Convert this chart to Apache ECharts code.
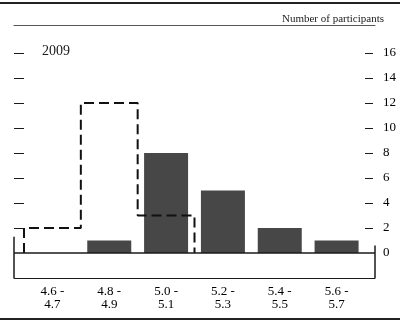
<!DOCTYPE html>
<html>
<head>
<meta charset="utf-8">
<script src="https://cdn.jsdelivr.net/npm/echarts@6/dist/echarts.min.js"></script>
<style>
  html, body { margin: 0; padding: 0; background: #fff; }
  #box { width: 400px; height: 321px; }
</style>
</head>
<body>
<div id="box"></div>
<script>
// ranges of the projection (percent), two-line tick labels
const categories = ['4.6 -\n4.7', '4.8 -\n4.9', '5.0 -\n5.1', '5.2 -\n5.3', '5.4 -\n5.5', '5.6 -\n5.7'];
// current projections (solid bars)
const counts = [0, 1, 8, 5, 2, 1];
// previous projections (dashed outline)
const prevCounts = [2, 12, 3, 0, 0, 0];
const yTicks = [2, 4, 6, 8, 10, 12, 14, 16];
const yLabels = [0, 2, 4, 6, 8, 10, 12, 14, 16];

const font = 'Liberation Serif';
const ink = '#1a1a1a';
const yMin = -2, yMax = 18.24;

// step outline of the previous distribution on a 0..n value axis
function outline(vals) {
  let last = -1;
  vals.forEach((v, i) => { if (v > 0) last = i; });
  const pts = [[0, 0]];
  for (let i = 0; i <= last; i++) {
    pts.push([i, vals[i]], [i + 1, vals[i]]);
  }
  pts.push([last + 1, 0]);
  return pts;
}

// tick-only axis (no line, no labels)
function tickAxis(pos, len) {
  return {
    type: 'value',
    gridIndex: 0,
    position: pos,
    min: yMin, max: yMax, interval: 2,
    axisLine: { show: false },
    axisTick: { show: true, length: len, customValues: yTicks, lineStyle: { color: ink } },
    axisLabel: { show: false },
    splitLine: { show: false }
  };
}

const chart = echarts.init(document.getElementById('box'));

const option = {
  animation: false,
  backgroundColor: '#fff',
  title: [
    {
      text: 'Number of participants',
      right: 11, top: 9,
      textStyle: { fontFamily: font, fontSize: 11, fontWeight: 'normal', color: ink }
    },
    {
      text: '2009',
      left: 37, top: 39,
      textStyle: { fontFamily: font, fontSize: 14, fontWeight: 'normal', color: ink }
    }
  ],
  graphic: [
    { type: 'line', shape: { x1: 0, y1: 3, x2: 400, y2: 3 }, style: { stroke: '#222', lineWidth: 2 } },
    { type: 'line', shape: { x1: 0, y1: 319, x2: 400, y2: 319 }, style: { stroke: '#222', lineWidth: 2 } }
  ],
  grid: [
    { left: 24, right: 35, top: 25, bottom: 43 },
    // frame around the panel
    { left: 14, right: 25, top: 25, bottom: 43 }
  ],
  xAxis: [
    {
      type: 'category',
      gridIndex: 0,
      data: categories,
      position: 'bottom',
      axisLine: { onZero: false, lineStyle: { color: ink, width: 1 } },
      axisTick: { inside: true, length: 13, interval: 0, lineStyle: { color: ink } },
      axisLabel: {
        interval: 0, margin: 7,
        fontFamily: font, fontSize: 13, lineHeight: 13, color: '#000'
      },
      splitLine: { show: false }
    },
    { type: 'value', gridIndex: 0, min: 0, max: 6, show: false },
    {
      type: 'value', gridIndex: 1, min: 0, max: 1, position: 'bottom',
      axisLine: { show: true, onZero: false, lineStyle: { color: ink } },
      axisTick: { show: false }, axisLabel: { show: false }, splitLine: { show: false }
    },
    {
      type: 'value', gridIndex: 1, min: 0, max: 1, position: 'top',
      axisLine: { show: true, onZero: false, lineStyle: { color: '#555' } },
      axisTick: { show: false }, axisLabel: { show: false }, splitLine: { show: false }
    }
  ],
  yAxis: [
    {
      type: 'value',
      gridIndex: 0,
      position: 'right',
      min: yMin, max: yMax, interval: 2,
      axisLine: { show: false },
      axisTick: { show: false },
      axisLabel: { margin: 18, customValues: yLabels, fontFamily: font, fontSize: 13, color: '#000' },
      splitLine: { show: false }
    },
    tickAxis('left', 10),
    { type: 'value', gridIndex: 1, min: yMin, max: yMax, show: false },
    tickAxis('right', 8)
  ],
  series: [
    {
      type: 'bar',
      xAxisIndex: 0,
      yAxisIndex: 0,
      data: counts,
      barWidth: 44,
      itemStyle: { color: '#474747' }
    },
    {
      type: 'line',
      xAxisIndex: 1,
      yAxisIndex: 0,
      data: outline(prevCounts),
      symbol: 'none',
      lineStyle: { color: '#111', width: 2, type: [10, 5] }
    },
    {
      // zero line and short side edges of the frame
      type: 'line',
      xAxisIndex: 2,
      yAxisIndex: 2,
      data: [],
      markLine: {
        silent: true,
        symbol: 'none',
        label: { show: false },
        lineStyle: { color: ink, width: 1.5, type: 'solid' },
        data: [
          [{ coord: [0, 0] }, { coord: [1, 0] }],
          [{ coord: [0, yMin] }, { coord: [0, 1.3] }],
          [{ coord: [1, yMin] }, { coord: [1, 0.6] }]
        ]
      }
    }
  ]
};

chart.setOption(option);
</script>
</body>
</html>
